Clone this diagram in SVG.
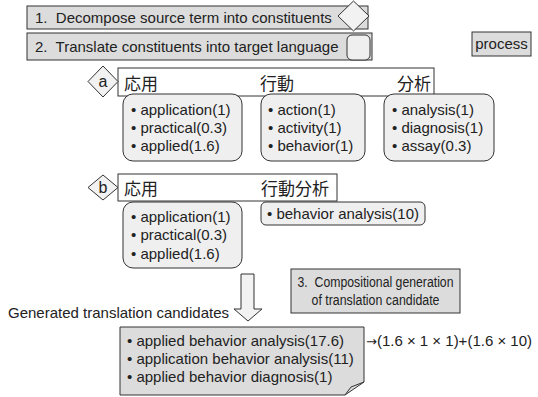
<svg xmlns="http://www.w3.org/2000/svg" width="538" height="397" viewBox="0 0 538 397">
<style>
text{font-family:"Liberation Sans",Arial,"Noto Sans CJK JP",sans-serif;font-size:15px;fill:#222}
.jp{font-family:"Noto Sans CJK JP",sans-serif;font-size:17px}
.s3{font-size:14px}
.step{fill:#dcdcdc;stroke:#333;stroke-width:1}
.item{fill:#efefef;stroke:#333;stroke-width:1}
.hdr{fill:#fff;stroke:#333;stroke-width:1}
.dia{fill:#f2f2f2;stroke:#333;stroke-width:1}
.mid{text-anchor:middle}
</style>
<g id="step1">
<rect class="step" x="27" y="6" width="341" height="23"/>
<text x="35" y="23">1.&#160; Decompose source term into constituents</text>
<polygon class="dia" points="353.5,1 369,16 353.5,31 338,16"/>
</g>
<g id="step2">
<rect class="step" x="27" y="33" width="345" height="27"/>
<text x="35" y="52">2.&#160; Translate constituents into target language</text>
<rect class="item" x="347" y="35" width="23" height="25" rx="5"/>
</g>
<g id="process">
<rect class="step" x="472" y="32" width="59" height="24"/>
<text class="mid" x="501.5" y="49">process</text>
</g>
<g id="row-a">
<rect class="hdr" x="118" y="68" width="316" height="28"/>
<polygon class="dia" points="103,66 118,81.5 103,97 88,81.5"/>
<text class="mid" x="103" y="87" style="font-size:16px">a</text>
<text class="jp" x="124" y="90">応用</text>
<text class="jp" x="260" y="90">行動</text>
<text class="jp" x="397" y="90">分析</text>
</g>
<g id="a1">
<rect class="item" x="123" y="94" width="119" height="67" rx="10"/>
<text x="131" y="115">• application(1)</text>
<text x="131" y="133">• practical(0.3)</text>
<text x="131" y="151">• applied(1.6)</text>
</g>
<g id="a2">
<rect class="item" x="261" y="94" width="104" height="67" rx="10"/>
<text x="268" y="115">• action(1)</text>
<text x="268" y="133">• activity(1)</text>
<text x="268" y="151">• behavior(1)</text>
</g>
<g id="a3">
<rect class="item" x="384" y="94" width="110" height="67" rx="10"/>
<text x="392" y="115">• analysis(1)</text>
<text x="392" y="133">• diagnosis(1)</text>
<text x="392" y="151">• assay(0.3)</text>
</g>
<g id="row-b">
<rect class="hdr" x="118" y="174" width="219" height="27"/>
<polygon class="dia" points="103,175 118,187.5 103,200 88,187.5"/>
<text class="mid" x="103" y="193" style="font-size:16px">b</text>
<text class="jp" x="124" y="195">応用</text>
<text class="jp" x="261" y="195">行動分析</text>
</g>
<g id="b1">
<rect class="item" x="123" y="202" width="119" height="66" rx="10"/>
<text x="131" y="222">• application(1)</text>
<text x="131" y="240">• practical(0.3)</text>
<text x="131" y="259">• applied(1.6)</text>
</g>
<g id="b2">
<rect class="item" x="261" y="202" width="164" height="23" rx="5"/>
<text x="267" y="219">• behavior analysis(10)</text>
</g>
<g id="connectors">
<polygon class="dia" points="241,274 254,274 254,309 262,309 248,321 234,309 241,309"/>
</g>
<text x="8" y="318">Generated translation candidates</text>
<g id="step3">
<rect class="step" x="291" y="269" width="169" height="44"/>
<text class="mid s3" x="375.5" y="287" textLength="156" lengthAdjust="spacingAndGlyphs">3.&#160; Compositional generation</text>
<text class="mid s3" x="375.5" y="305" textLength="128" lengthAdjust="spacingAndGlyphs">of translation candidate</text>
</g>
<g id="candidates">
<path class="step" d="M120,327 H364 V382 L345,395 H120 Z"/>
<path d="M345,395 L351,387 L364,382" fill="none" stroke="#333" stroke-width="1"/>
<text x="127" y="346">• applied behavior analysis(17.6)</text>
<text x="127" y="364">• application behavior analysis(11)</text>
<text x="127" y="382">• applied behavior diagnosis(1)</text>
</g>
<text x="366" y="346"><tspan style="font-family:'DejaVu Sans',sans-serif;font-size:13px">→</tspan>(1.6 × 1 × 1)+(1.6 × 10)</text>
</svg>
